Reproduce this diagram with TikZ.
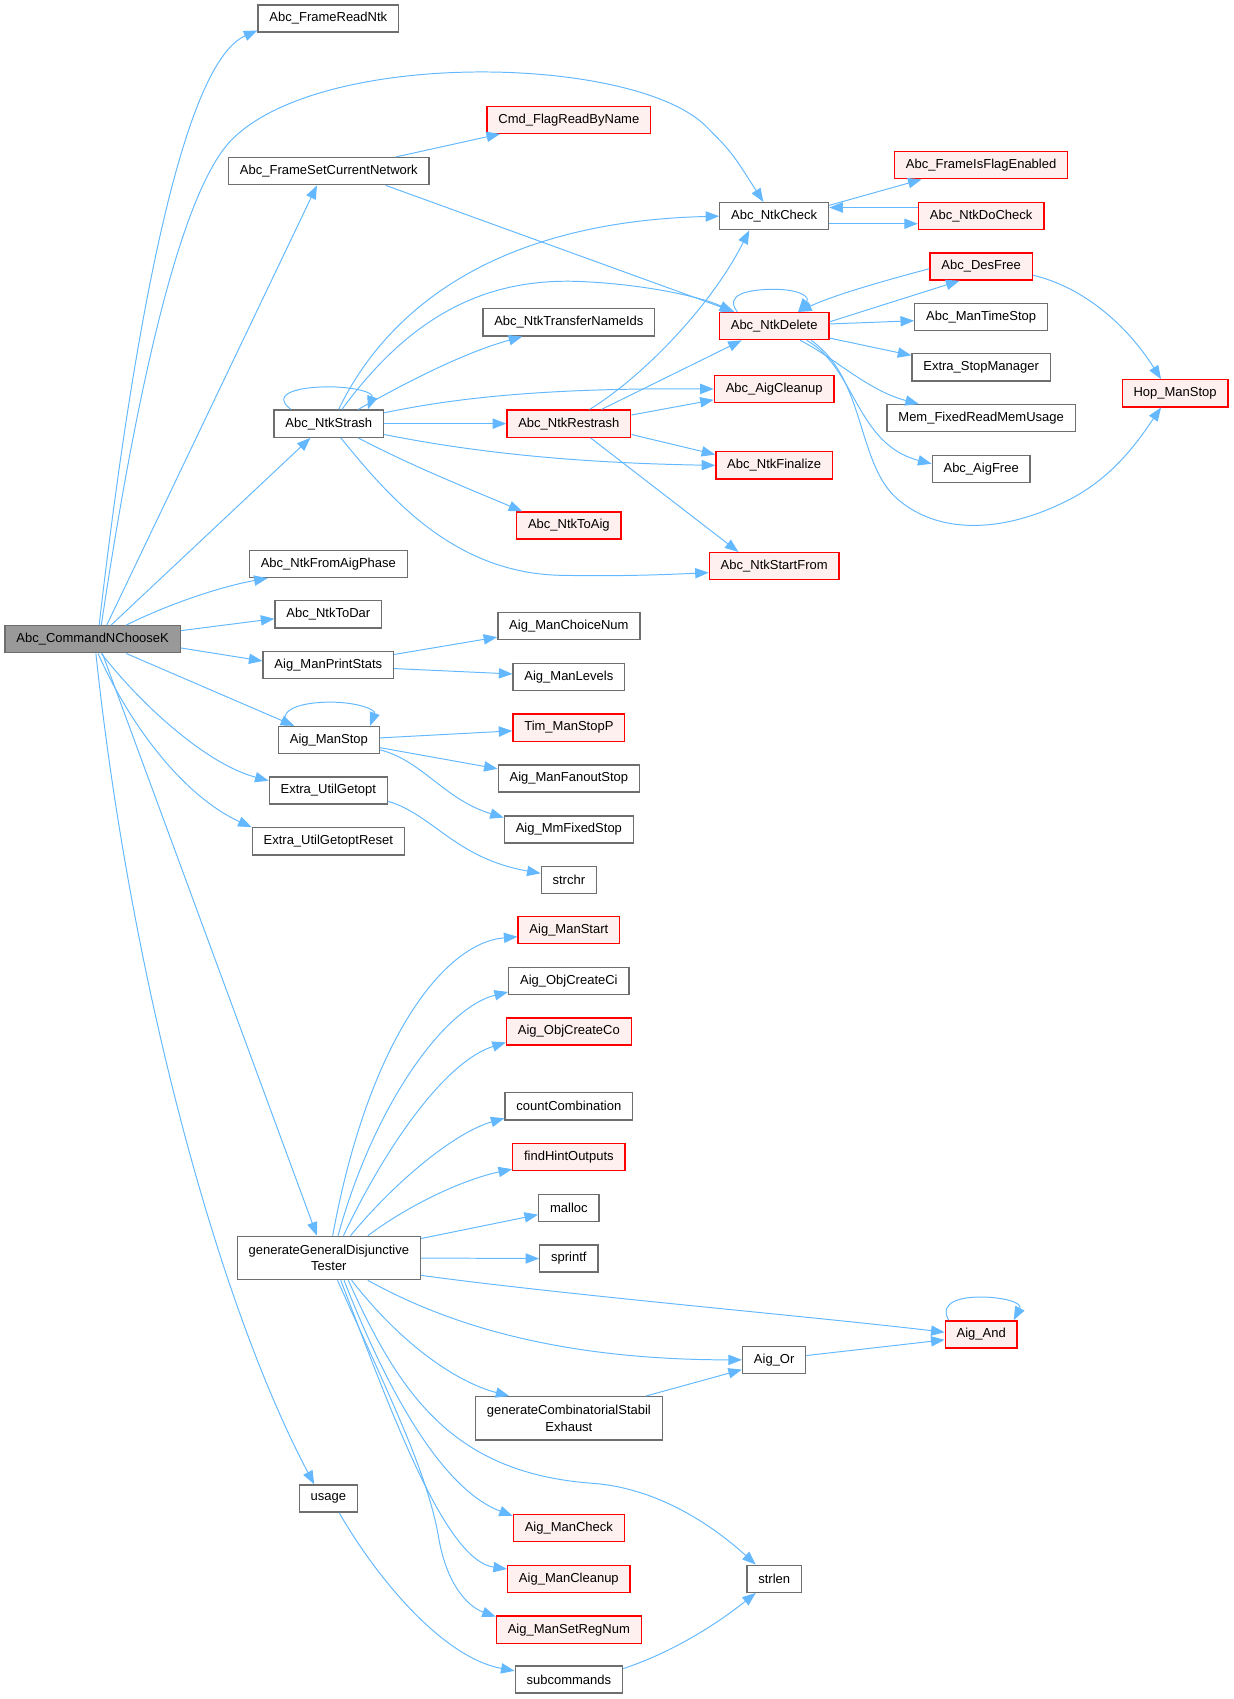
\documentclass[tikz,border=0pt]{standalone}
\usepackage{fontspec}
\setmainfont{Liberation Sans}
\usetikzlibrary{arrows.meta}
\definecolor{edgeblue}{HTML}{63B8FF}
\definecolor{boxgray}{HTML}{6E6E6E}
\definecolor{redfill}{HTML}{FFF0F0}
\definecolor{rootfill}{HTML}{999999}
\begin{document}
\begin{tikzpicture}[x=1pt,y=-1pt,
 fn/.style={draw=boxgray,fill=white,line width=1.2pt,font=\fontsize{12}{15}\selectfont,inner xsep=10.5pt,inner ysep=3pt,minimum height=25pt},
 hl/.style={fn,draw=red,fill=redfill},
 rootnode/.style={fn,fill=rootfill},
 twoline/.style={align=center,inner ysep=5pt,minimum height=40pt},
 cl/.style={draw=edgeblue,line width=0.9pt,-{Triangle[length=12.5pt,width=9.5pt]}}]
\useasboundingbox (0,0) rectangle (1138,1568);
% nodes
\node[rootnode] (root) at (85.5,590) {Abc\_CommandNChooseK};
\node[fn] (frn) at (303,17) {Abc\_FrameReadNtk};
\node[fn] (fsc) at (303.5,158) {Abc\_FrameSetCurrentNetwork};
\node[hl] (cmd) at (525,110.5) {Cmd\_FlagReadByName};
\node[fn] (chk) at (714.5,199.5) {Abc\_NtkCheck};
\node[hl] (fife) at (905.5,152.5) {Abc\_FrameIsFlagEnabled};
\node[hl] (dochk) at (905.5,199.5) {Abc\_NtkDoCheck};
\node[hl] (desf) at (905.5,246) {Abc\_DesFree};
\node[hl] (del) at (714.5,301) {Abc\_NtkDelete};
\node[fn] (mts) at (905.5,292.5) {Abc\_ManTimeStop};
\node[fn] (esm) at (905.5,339) {Extra\_StopManager};
\node[fn] (mfr) at (905.5,386) {Mem\_FixedReadMemUsage};
\node[fn] (aigf) at (905.5,433) {Abc\_AigFree};
\node[hl] (hop) at (1084.5,363) {Hop\_ManStop};
\node[fn] (tni) at (525,297.5) {Abc\_NtkTransferNameIds};
\node[fn] (str) at (303.5,391) {Abc\_NtkStrash};
\node[hl] (acl) at (714.5,359) {Abc\_AigCleanup};
\node[hl] (rst) at (525,391) {Abc\_NtkRestrash};
\node[hl] (fin) at (714.5,429.5) {Abc\_NtkFinalize};
\node[hl] (toaig) at (525,485) {Abc\_NtkToAig};
\node[hl] (sfr) at (714.5,522.5) {Abc\_NtkStartFrom};
\node[fn] (fap) at (303,520.5) {Abc\_NtkFromAigPhase};
\node[fn] (todar) at (303,567) {Abc\_NtkToDar};
\node[fn] (choice) at (525,578) {Aig\_ManChoiceNum};
\node[fn] (pst) at (303,614) {Aig\_ManPrintStats};
\node[fn] (lev) at (525,625) {Aig\_ManLevels};
\node[fn] (mstop) at (303.5,683) {Aig\_ManStop};
\node[hl] (tim) at (525,671.5) {Tim\_ManStopP};
\node[fn] (fan) at (525,718.5) {Aig\_ManFanoutStop};
\node[fn] (ugo) at (303,729.5) {Extra\_UtilGetopt};
\node[fn] (mmf) at (525,765.5) {Aig\_MmFixedStop};
\node[fn] (ugr) at (303,776.5) {Extra\_UtilGetoptReset};
\node[fn] (strchr) at (525,812) {strchr};
\node[hl] (mstart) at (525,858.5) {Aig\_ManStart};
\node[fn] (oci) at (525,905.5) {Aig\_ObjCreateCi};
\node[hl] (oco) at (525,952) {Aig\_ObjCreateCo};
\node[fn] (cc) at (525,1021) {countCombination};
\node[hl] (fho) at (525,1068) {findHintOutputs};
\node[fn] (malloc) at (525,1115) {malloc};
\node[fn] (sprintf) at (525,1161.5) {sprintf};
\node[fn,twoline] (ggdt) at (303.5,1161) {generateGeneralDisjunctive\\Tester};
\node[hl] (aand) at (905.5,1231.5) {Aig\_And};
\node[fn] (aor) at (714.5,1255) {Aig\_Or};
\node[fn,twoline] (gcse) at (525,1309) {generateCombinatorialStabil\\Exhaust};
\node[fn] (usage) at (303,1383) {usage};
\node[hl] (mchk) at (525,1410) {Aig\_ManCheck};
\node[hl] (mcl) at (525,1457) {Aig\_ManCleanup};
\node[fn] (strlen) at (714.5,1457) {strlen};
\node[hl] (msr) at (525,1504) {Aig\_ManSetRegNum};
\node[fn] (subc) at (525,1550) {subcommands};
% edges from root
\draw[cl] ([xshift=6pt]root.north) .. controls (120,330) and (165,60) .. ([yshift=2pt]frn.south west);
\draw[cl] ([xshift=8pt]root.north) .. controls (120,400) and (160,190) .. (211,132) .. controls (290,45) and (580,50) .. (650,115) .. controls (675,140) .. ([xshift=-10pt]chk.north);
\draw[cl] ([xshift=13pt]root.north) -- ([xshift=-11pt]fsc.south);
\draw[cl] ([xshift=17pt]root.north) -- ([xshift=-17pt]str.south);
\draw[cl] ([xshift=31pt]root.north) .. controls (150,560) and (200,542) .. ([xshift=-56pt]fap.south);
\draw[cl] ([yshift=8pt]root.east) -- ([yshift=-4pt]todar.west);
\draw[cl] ([yshift=-8pt]root.east) -- ([yshift=4pt]pst.west);
\draw[cl] ([xshift=31pt]root.south) -- ([xshift=-32pt]mstop.north);
\draw[cl] ([xshift=8pt]root.south) .. controls (130,650) and (190,705) .. ([yshift=9pt]ugo.west);
\draw[cl] ([xshift=5pt]root.south) .. controls (120,670) and (170,735) .. (ugr.north west);
\draw[cl] ([xshift=9pt]root.south) -- ([xshift=-11pt]ggdt.north);
\draw[cl] ([xshift=3pt]root.south) .. controls (120,900) and (200,1200) .. ([xshift=-13pt]usage.north);
% FrameSetCurrentNetwork
\draw[cl] ([xshift=61.5pt]fsc.north) -- ([xshift=-63.5pt]cmd.south);
\draw[cl] ([xshift=52.5pt]fsc.south) -- ([xshift=-36.5pt]del.north);
% NtkStrash
\draw[cl] ([xshift=-35pt]str.north) .. controls (248,362) and (280,357) .. (303,357) .. controls (326,357) and (345,362) .. ([xshift=36pt]str.north);
\draw[cl] ([xshift=9pt]str.north) .. controls (350,300) and (440,205) .. (chk.west);
\draw[cl] ([xshift=12pt]str.north) .. controls (380,290) and (450,255) .. (540,260) .. controls (600,263) and (650,275) .. ([xshift=-38pt]del.north);
\draw[cl] ([xshift=27pt]str.north) .. controls (380,350) and (430,325) .. ([xshift=-43pt]tni.south);
\draw[cl] ([yshift=10pt]str.east) .. controls (430,365) and (520,358) .. (acl.west);
\draw[cl] (str.east) -- (rst.west);
\draw[cl] ([yshift=-10pt]str.east) .. controls (430,416) and (520,427) .. (fin.west);
\draw[cl] ([xshift=27pt]str.south) .. controls (380,430) and (430,450) .. ([xshift=-43pt]toaig.north);
\draw[cl] ([xshift=11pt]str.south) .. controls (360,460) and (420,530) .. (520,531) .. controls (580,532) and (620,530) .. ([yshift=-6pt]sfr.west);
% NtkRestrash
\draw[cl] ([xshift=19pt]rst.north) .. controls (590,350) and (655,285) .. ([xshift=-23pt]chk.south);
\draw[cl] ([xshift=30pt]rst.north) -- ([xshift=-30pt]del.south);
\draw[cl] ([yshift=8pt]rst.east) -- ([yshift=-10pt]acl.west);
\draw[cl] ([yshift=-10pt]rst.east) -- ([yshift=10pt]fin.west);
\draw[cl] ([xshift=20pt]rst.south) -- ([xshift=-33pt]sfr.north);
% NtkCheck
\draw[cl] ([yshift=10pt]chk.east) -- ([xshift=-55pt]fife.south);
\draw[cl] ([yshift=-7pt]chk.east) -- ([yshift=-7pt]dochk.west);
\draw[cl] ([yshift=8pt]dochk.west) -- ([yshift=8pt]chk.east);
% NtkDelete
\draw[cl] ([xshift=-34pt]del.north) .. controls (668,272) and (690,267) .. (714,267) .. controls (738,267) and (748,274) .. ([xshift=22pt]del.north);
\draw[cl] ([yshift=-2pt]desf.west) .. controls (820,258) and (770,272) .. ([xshift=22pt]del.north);
\draw[cl] ([yshift=4pt]del.east) -- ([xshift=-20pt]desf.south);
\draw[cl] ([yshift=2pt]del.east) -- ([yshift=-3.5pt]mts.west);
\draw[cl] ([yshift=-11pt]del.east) -- ([yshift=11pt]esm.west);
\draw[cl] ([xshift=24pt]del.south) .. controls (770,330) and (800,360) .. ([xshift=-57.5pt]mfr.north);
\draw[cl] ([xshift=30pt]del.south) .. controls (790,340) and (790,410) .. ([yshift=5pt]aigf.west);
\draw[cl] ([xshift=34pt]del.south) .. controls (800,350) and (790,430) .. (830,462) .. controls (870,495) and (930,490) .. (985,462) .. controls (1030,440) and (1055,400) .. ([xshift=-13pt]hop.south);
\draw[cl] ([yshift=-8pt]desf.east) .. controls (1000,265) and (1040,300) .. ([xshift=-13pt]hop.north);
% PrintStats, ManStop, Getopt
\draw[cl] ([yshift=10pt]pst.east) -- ([yshift=-10pt]choice.west);
\draw[cl] ([yshift=-3pt]pst.east) -- ([yshift=3pt]lev.west);
\draw[cl] ([xshift=-39pt]mstop.north) .. controls (255,652) and (285,648) .. (305,648) .. controls (330,648) and (347,655) .. ([xshift=38pt]mstop.north);
\draw[cl] ([yshift=2pt]mstop.east) -- ([yshift=-3pt]tim.west);
\draw[cl] ([yshift=-7pt]mstop.east) -- ([yshift=9pt]fan.west);
\draw[cl] ([yshift=-9pt]mstop.east) .. controls (390,702) and (410,738) .. ([yshift=11pt]mmf.west);
\draw[cl] ([yshift=-10pt]ugo.east) .. controls (400,752) and (420,792) .. ([yshift=6pt]strchr.west);
% generateGeneralDisjunctiveTester
\draw[cl] ([xshift=3.5pt]ggdt.north) .. controls (340,960) and (410,870) .. ([yshift=-6pt]mstart.west);
\draw[cl] ([xshift=8.5pt]ggdt.north) .. controls (345,1020) and (410,930) .. ([yshift=-10pt]oci.west);
\draw[cl] ([xshift=13.5pt]ggdt.north) .. controls (355,1060) and (410,980) .. ([yshift=-10pt]oco.west);
\draw[cl] ([xshift=20pt]ggdt.north) .. controls (365,1090) and (420,1045) .. ([yshift=-11pt]cc.west);
\draw[cl] ([xshift=36pt]ggdt.north) .. controls (380,1110) and (430,1088) .. ([yshift=-11pt]fho.west);
\draw[cl] ([yshift=18pt]ggdt.east) -- ([yshift=-6pt]malloc.west);
\draw[cl] (ggdt.east) -- (sprintf.west);
\draw[cl] ([yshift=-16pt]ggdt.east) .. controls (520,1195) and (750,1215) .. ([yshift=2pt]aand.west);
\draw[cl] ([xshift=-30pt]aand.north) .. controls (866,1201) and (888,1197) .. (905,1197) .. controls (925,1197) and (944,1202) .. ([xshift=30pt]aand.north);
\draw[cl] ([xshift=36pt]ggdt.south) .. controls (400,1215) and (500,1255) .. (aor.west);
\draw[cl] ([yshift=4pt]aor.east) -- ([yshift=-5pt]aand.west);
\draw[cl] ([xshift=21pt]ggdt.south) .. controls (370,1240) and (420,1275) .. ([xshift=-55pt]gcse.north);
\draw[cl] ([xshift=71pt]gcse.north) -- ([yshift=-9pt]aor.west);
\draw[cl] ([xshift=18pt]ggdt.south) .. controls (370,1290) and (420,1360) .. (548,1369) .. controls (610,1374) and (660,1410) .. ([xshift=-17pt]strlen.north);
\draw[cl] ([xshift=14pt]ggdt.south) .. controls (360,1290) and (410,1375) .. ([yshift=11pt]mchk.west);
\draw[cl] ([xshift=11pt]ggdt.south) .. controls (360,1300) and (410,1440) .. ([yshift=9pt]mcl.west);
\draw[cl] ([xshift=8pt]ggdt.south) .. controls (360,1290) and (395,1360) .. (405,1420) .. controls (412,1460) and (430,1482) .. ([yshift=12pt]msr.west);
% usage, subcommands
\draw[cl] ([xshift=10pt]usage.south) .. controls (350,1460) and (410,1530) .. ([yshift=8pt]subc.west);
\draw[cl] ([yshift=10pt]subc.east) .. controls (620,1525) and (660,1500) .. ([xshift=-17pt]strlen.south);
\end{tikzpicture}
\end{document}
